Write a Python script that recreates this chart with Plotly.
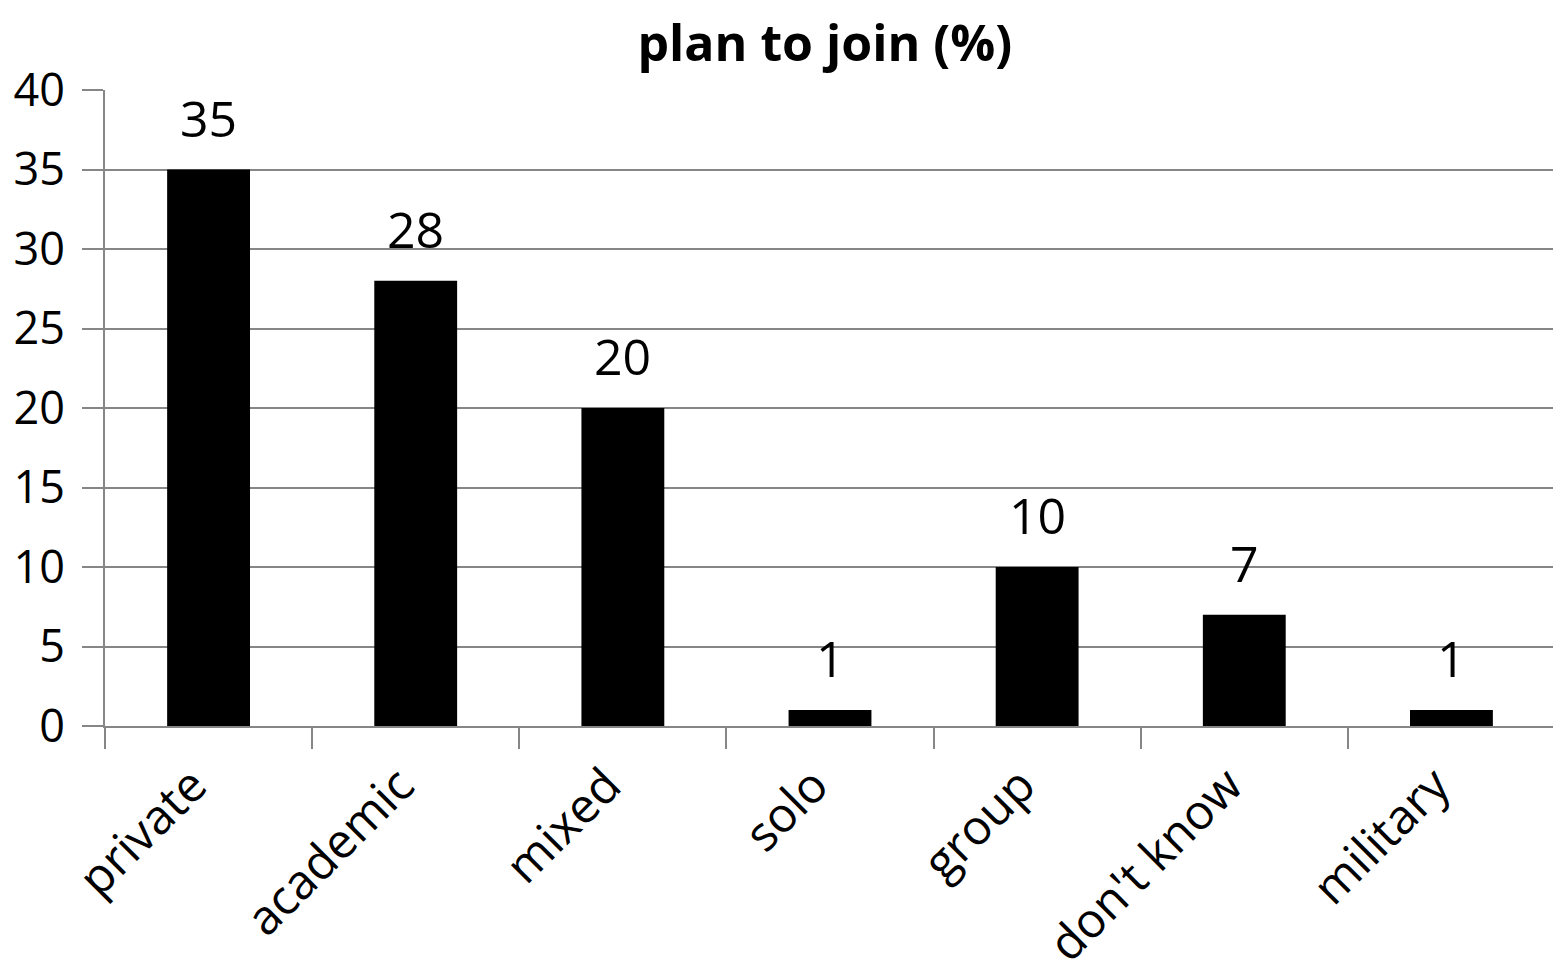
import plotly.graph_objects as go

categories = ["private", "academic", "mixed", "solo", "group", "don't know", "military"]
values = [35, 28, 20, 1, 10, 7, 1]
y_ticks = [0, 5, 10, 15, 20, 25, 30, 35, 40]

grey = "#868686"
font_name = "Open Sans"

fig = go.Figure()
fig.add_trace(go.Bar(x=categories, y=values, marker=dict(color="black", line=dict(width=0)),
                     showlegend=False))

# value labels above each bar
for c, v in zip(categories, values):
    fig.add_annotation(x=c, y=v, text=str(v), showarrow=False, yanchor="bottom", yshift=16,
                       font=dict(family=font_name, size=50, color="black"))

# page body has an 8px margin, so the figure is a bit smaller than the window
fig.update_layout(
    width=1553, height=972,
    margin=dict(l=97, r=6, t=82, b=254),
    paper_bgcolor="white", plot_bgcolor="white",
    bargap=0.6,
    title=dict(text="<b>plan to join (%)</b>", x=0.526, xanchor="center", y=0.963, yanchor="middle",
               font=dict(family=font_name, size=50, color="black")),
    font=dict(family=font_name, color="black"),
)
fig.update_xaxes(tickangle=-45, tickson="boundaries", ticks="outside", ticklen=21, tickcolor=grey,
                 tickwidth=2, showgrid=False, showline=True, linecolor=grey, linewidth=2,
                 automargin=False, ticklabelshift=-16,
                 tickfont=dict(family=font_name, size=48, color="black"), ticklabelstandoff=10)
fig.update_yaxes(range=[0, 40], tickvals=y_ticks, ticks="outside", ticklen=21, tickcolor=grey,
                 tickwidth=2, showgrid=True, gridcolor=grey, gridwidth=2, showline=True,
                 linecolor=grey, linewidth=2, zeroline=False, ticklabelstandoff=8,
                 automargin=False,
                 tickfont=dict(family=font_name, size=45, color="black"))

fig.write_html("out.html")
